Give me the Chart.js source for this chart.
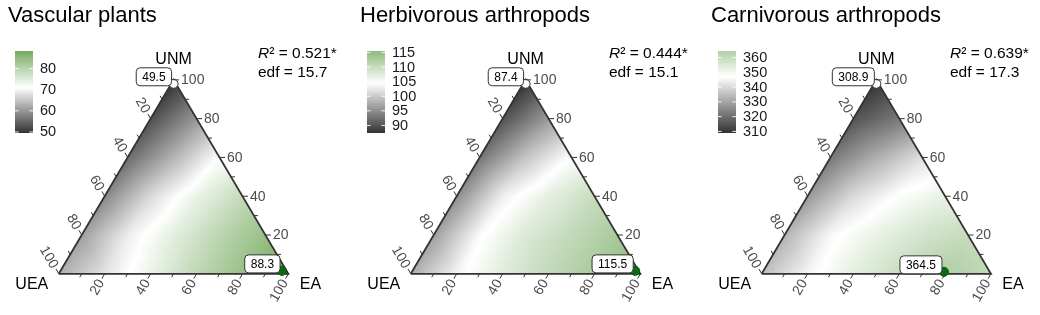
<!DOCTYPE html>
<html>
<head>
<meta charset="utf-8">
<script src="https://cdn.jsdelivr.net/npm/chart.js@4.4.1/dist/chart.umd.min.js"></script>
<style>
html, body { margin: 0; padding: 0; background: #fff; overflow: hidden; }
#wrap { position: relative; width: 1040px; height: 315px; }
.panel { position: absolute; top: 0; }
</style>
</head>
<body>
<div id="wrap">
  <div class="panel" style="left:0px"><canvas id="c0" width="352" height="315"></canvas></div>
  <div class="panel" style="left:352px"><canvas id="c1" width="352" height="315"></canvas></div>
  <div class="panel" style="left:703px"><canvas id="c2" width="337" height="315"></canvas></div>
</div>
<script>
// fitted surface
// rows = UNM 0,20,...,100 ; inside a row EA = 0,20,... (UEA is what is left)
const plantsGrid = [
  [62.5, 68, 73.5, 79, 84, 88.3],
  [61, 69, 74.5, 79.5, 84],
  [58.5, 67, 73.5, 78.5],
  [55.5, 63, 71],
  [52.5, 60],
  [49.5]
];
const herbGrid = [
  [97.5, 103.5, 107.5, 110.5, 113, 115.5],
  [96.5, 104, 108, 110.5, 113],
  [95, 103, 107, 110],
  [93, 99.5, 104.5],
  [90, 96],
  [87.4]
];
const carnGrid = [
  [335, 345, 353, 359, 364.5, 361],
  [333, 345.5, 352, 357, 360],
  [328, 340, 347.5, 352],
  [322, 332, 341],
  [315, 322],
  [308.9]
];

const titles = ["Vascular plants", "Herbivorous arthropods", "Carnivorous arthropods"];
const r2Values = ["0.521", "0.444", "0.639"];
const edfValues = ["15.7", "15.1", "17.3"];
const colourMids = [71, 104.4, 347];
const colourLims = [[49.5, 88.3], [87.4, 115.5], [308.9, 364.5]];
const legendTicks = [
  [50, 60, 70, 80],
  [90, 95, 100, 105, 110, 115],
  [310, 320, 330, 340, 350, 360]
];
// min / max points (UEA, EA, UNM in %)
const minPoints = [
  { uea: 1, ea: 1, unm: 98 },
  { uea: 1, ea: 1, unm: 98 },
  { uea: 1, ea: 1, unm: 98 }
];
const maxPoints = [
  { uea: 2, ea: 96.5, unm: 1.5 },
  { uea: 1.5, ea: 97, unm: 1.5 },
  { uea: 20, ea: 79, unm: 1 }
];
const axisBreaks = [20, 40, 60, 80, 100];
const minorBreaks = [10, 30, 50, 70, 90];

const grids = [plantsGrid, herbGrid, carnGrid];
const statsX = [258, 257, 247];

const SX = 2.37, SY = 2.32, OX = 55, OY = 278, H = 315;
const R3 = Math.sqrt(3) / 2;
const FONT = "'Liberation Sans', Arial, sans-serif";
const LOW = [51, 51, 51], MID = [255, 255, 255], HIGH = [84, 150, 58];

function tern(uea, ea, unm) {
  return { x: ea + unm / 2, y: unm * R3 };
}

function surface(grid, ea, unm) {
  const u = Math.max(0, ea / 20), v = Math.max(0, unm / 20);
  const j = Math.min(Math.floor(v), 4);
  const i = Math.max(0, Math.min(Math.floor(u), 4 - j));
  const fu = u - i, fv = v - j;
  if (fu + fv <= 1) {
    return grid[j][i] * (1 - fu - fv) + grid[j][i + 1] * fu + grid[j + 1][i] * fv;
  }
  return grid[j + 1][i + 1] * (fu + fv - 1) + grid[j][i + 1] * (1 - fv) + grid[j + 1][i] * (1 - fu);
}

function colourFor(v, k) {
  const mid = colourMids[k];
  const spread = Math.max(colourLims[k][1] - mid, mid - colourLims[k][0]);
  let t = (v - mid) / spread;
  t = Math.max(-1, Math.min(1, t));
  const end = t < 0 ? LOW : HIGH;
  const f = Math.abs(t);
  return end.map((e, i) => Math.round(MID[i] + (e - MID[i]) * f));
}

function makePlugin(k) {
  return {
    id: "ternary" + k,
    beforeDatasetsDraw(chart) {
      const ctx = chart.ctx;
      const xs = chart.scales.x, ys = chart.scales.y;
      const verts = [tern(100, 0, 0), tern(0, 100, 0), tern(0, 0, 100)];
      const pxs = verts.map(p => xs.getPixelForValue(p.x));
      const pys = verts.map(p => ys.getPixelForValue(p.y));
      const x0 = Math.floor(Math.min(...pxs)) - 1, x1 = Math.ceil(Math.max(...pxs)) + 1;
      const y0 = Math.floor(Math.min(...pys)) - 1, y1 = Math.ceil(Math.max(...pys)) + 1;
      const w = x1 - x0, h = y1 - y0;
      const off = document.createElement("canvas");
      off.width = w; off.height = h;
      const octx = off.getContext("2d");
      const img = octx.createImageData(w, h);
      for (let py = 0; py < h; py++) {
        const yv = ys.getValueForPixel(y0 + py + 0.5);
        const unm = yv / R3;
        for (let px = 0; px < w; px++) {
          const xv = xs.getValueForPixel(x0 + px + 0.5);
          const ea = xv - unm / 2;
          const uea = 100 - ea - unm;
          if (unm < -0.2 || ea < -0.2 || uea < -0.2) continue;
          const val = surface(grids[k], Math.max(0, ea), Math.max(0, unm));
          const c = colourFor(val, k);
          const idx = (py * w + px) * 4;
          img.data[idx] = c[0]; img.data[idx + 1] = c[1]; img.data[idx + 2] = c[2]; img.data[idx + 3] = 255;
        }
      }
      octx.putImageData(img, 0, 0);
      ctx.drawImage(off, x0, y0);

      // colour bar
      const top = 51, bot = 133, bx = 15, bw = 18;
      const lo = colourLims[k][0], hi = colourLims[k][1];
      for (let y = top; y < bot; y++) {
        const v = hi - (y + 0.5 - top) / (bot - top) * (hi - lo);
        const c = colourFor(v, k);
        ctx.fillStyle = `rgb(${c[0]},${c[1]},${c[2]})`;
        ctx.fillRect(bx, y, bw, 1);
      }
      ctx.save();
      ctx.font = `14.5px ${FONT}`;
      ctx.textBaseline = "middle";
      ctx.textAlign = "left";
      legendTicks[k].forEach(t => {
        const y = top + (hi - t) / (hi - lo) * (bot - top);
        ctx.strokeStyle = "rgba(255,255,255,0.9)";
        ctx.lineWidth = 1;
        ctx.beginPath();
        ctx.moveTo(bx, y); ctx.lineTo(bx + 3.6, y);
        ctx.moveTo(bx + bw - 3.6, y); ctx.lineTo(bx + bw, y);
        ctx.stroke();
        ctx.fillStyle = "#1a1a1a";
        ctx.fillText(String(t), bx + bw + 7, y + 0.5);
      });
      ctx.restore();
    },
    afterDatasetsDraw(chart) {
      const ctx = chart.ctx;
      const xs = chart.scales.x, ys = chart.scales.y;
      const pix = (a, b, c) => {
        const p = tern(a, b, c);
        return { x: xs.getPixelForValue(p.x), y: ys.getPixelForValue(p.y) };
      };
      ctx.save();
      // axis ticks
      const axes = [
        { at: v => pix(100 - v, v, 0), dx: -0.5, dy: R3, rot: -Math.PI / 3, align: "right" },
        { at: v => pix(0, 100 - v, v), dx: 1, dy: 0, rot: 0, align: "left" },
        { at: v => pix(v, 0, 100 - v), dx: -0.5, dy: -R3, rot: Math.PI / 3, align: "right" }
      ];
      ctx.strokeStyle = "#333";
      ctx.lineWidth = 1;
      axes.forEach(ax => {
        minorBreaks.forEach(v => {
          const p = ax.at(v);
          ctx.beginPath();
          ctx.moveTo(p.x, p.y);
          ctx.lineTo(p.x + ax.dx * 4, p.y + ax.dy * 4);
          ctx.stroke();
        });
        axisBreaks.forEach(v => {
          const p = ax.at(v);
          ctx.beginPath();
          ctx.moveTo(p.x, p.y);
          ctx.lineTo(p.x + ax.dx * 5.5, p.y + ax.dy * 5.5);
          ctx.stroke();
          ctx.save();
          ctx.translate(p.x + ax.dx * 7.5, p.y + ax.dy * 7.5);
          ctx.rotate(ax.rot);
          ctx.font = `14px ${FONT}`;
          ctx.fillStyle = "#4d4d4d";
          ctx.textAlign = ax.align;
          ctx.textBaseline = "middle";
          ctx.fillText(String(v), 0, 0.5);
          ctx.restore();
        });
      });

      // vertex names
      ctx.fillStyle = "#000";
      ctx.font = `16px ${FONT}`;
      ctx.textAlign = "center";
      ctx.textBaseline = "middle";
      const vt = pix(0, 0, 100), vl = pix(100, 0, 0), vr = pix(0, 100, 0);
      ctx.fillText("UNM", vt.x, vt.y - 20);
      ctx.fillText("UEA", vl.x - 27, vl.y + 10.5);
      ctx.fillText("EA", vr.x + 22, vr.y + 10.5);

      // point labels
      const pts = [minPoints[k], maxPoints[k]];
      const labs = [colourLims[k][0].toFixed(1), colourLims[k][1].toFixed(1)];
      ctx.font = `12px ${FONT}`;
      pts.forEach((pt, i) => {
        const p = pix(pt.uea, pt.ea, pt.unm);
        const tw = ctx.measureText(labs[i]).width;
        const bwid = tw + 12, bh = 18;
        const right = p.x - 2, cy = p.y - 7;
        ctx.beginPath();
        ctx.roundRect(right - bwid, cy - bh / 2, bwid, bh, 4);
        ctx.fillStyle = "#fff";
        ctx.fill();
        ctx.strokeStyle = "#333";
        ctx.lineWidth = 1;
        ctx.stroke();
        ctx.fillStyle = "#000";
        ctx.textAlign = "center";
        ctx.fillText(labs[i], right - bwid / 2, cy + 0.5);
      });

      // title and stats
      ctx.textAlign = "left";
      ctx.textBaseline = "alphabetic";
      ctx.font = `22px ${FONT}`;
      ctx.fillText(titles[k], 8, 22);
      const sx = statsX[k];
      ctx.textBaseline = "middle";
      ctx.font = `italic 15.5px ${FONT}`;
      ctx.fillText("R", sx, 54);
      const rw = ctx.measureText("R").width;
      ctx.font = `15.5px ${FONT}`;
      ctx.fillText("\u00B2 = " + r2Values[k] + "*", sx + rw, 54);
      ctx.fillText("edf = " + edfValues[k], sx, 73);
      ctx.restore();
    }
  };
}

for (let k = 0; k < 3; k++) {
  const canvas = document.getElementById("c" + k);
  const W = canvas.width;
  const outline = [tern(100, 0, 0), tern(0, 100, 0), tern(0, 0, 100), tern(100, 0, 0)];
  const points = [minPoints[k], maxPoints[k]].map(p => tern(p.uea, p.ea, p.unm));
  new Chart(canvas.getContext("2d"), {
    type: "scatter",
    data: {
      datasets: [
        {
          data: points,
          pointRadius: 4.5,
          backgroundColor: ["#ffffff", "#0b6b12"],
          borderColor: ["#333333", "#0a5510"],
          borderWidth: 1
        },
        {
          data: outline,
          showLine: true,
          borderColor: "#333",
          borderWidth: 1.8,
          pointRadius: 0,
          fill: false
        }
      ]
    },
    options: {
      responsive: false,
      animation: false,
      devicePixelRatio: 1,
      events: [],
      layout: { padding: 0 },
      plugins: { legend: { display: false }, tooltip: { enabled: false } },
      scales: {
        x: { type: "linear", display: false, min: -OX / SX, max: (W - OX) / SX },
        y: { type: "linear", display: false, min: -(H - OY) / SY, max: OY / SY }
      }
    },
    plugins: [makePlugin(k)]
  });
}
</script>
</body>
</html>
